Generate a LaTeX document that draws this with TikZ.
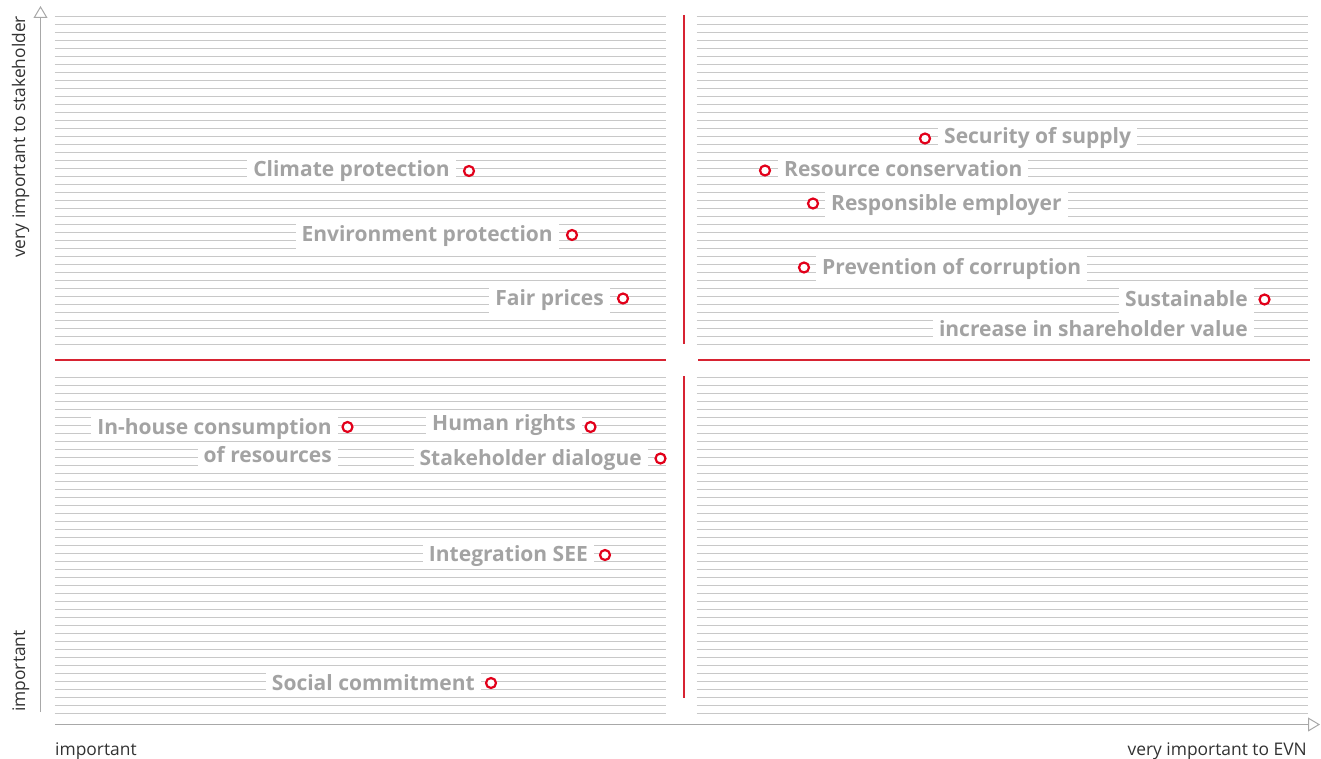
\documentclass[tikz,border=0pt]{standalone}
\usepackage{fontspec}
\setmainfont{Open Sans}
\newfontfamily\lblfont{Open Sans}
\usetikzlibrary{arrows.meta}
\definecolor{gridgray}{RGB}{200,200,200}
\definecolor{axisgray}{RGB}{168,168,168}
\definecolor{lblgray}{RGB}{163,163,163}
\definecolor{axistext}{RGB}{50,50,50}
\definecolor{evnred}{RGB}{226,0,26}
\definecolor{crossred}{RGB}{215,35,50}
\tikzset{
  grid line/.style={gridgray, line width=1pt},
  cross line/.style={crossred, line width=2pt},
  axis line/.style={axisgray, line width=1pt, -{Triangle[open,length=12pt,width=14pt]}},
  lbl/.style={fill=white, text=lblgray, font=\lblfont\bfseries\fontsize{21}{24}\selectfont,
     inner xsep=6pt, inner ysep=3pt, text height=16pt, text depth=4pt},
  lblL/.style={lbl, anchor=base east},
  lblR/.style={lbl, anchor=base west},
  dot/.style={circle, draw=evnred, line width=2.2pt, fill=white, minimum size=10pt, inner sep=0pt},
  axislbl/.style={text=axistext, font=\fontsize{17.4}{20}\selectfont, inner sep=0pt}
}
\begin{document}
\begin{tikzpicture}[x=1pt,y=-1pt]
\useasboundingbox (0,0) rectangle (1321,759);
% grid lines
\foreach \k in {0,...,41} {
  \draw[grid line] (54.5,16.7+8*\k) -- (666,16.7+8*\k);
  \draw[grid line] (696.5,16.7+8*\k) -- (1307.5,16.7+8*\k);
}
\foreach \k in {0,...,42} {
  \draw[grid line] (54.5,377.3+8*\k) -- (666,377.3+8*\k);
  \draw[grid line] (696.5,377.3+8*\k) -- (1307.5,377.3+8*\k);
}
% red cross
\draw[cross line] (683.7,15) -- (683.7,344);
\draw[cross line] (683.7,376) -- (683.7,698);
\draw[cross line] (54.5,359.5) -- (666,359.5);
\draw[cross line] (698,359.5) -- (1310,359.5);
% axes
\coordinate (yb) at (40.5,712);
\coordinate (yt) at (40.5,6);
\coordinate (xl) at (55,724.5);
\coordinate (xr) at (1320,724.5);
\draw[axis line] (yb) -- (yt);
\draw[axis line] (xl) -- (xr);
% axis labels
\node[axislbl, rotate=90, anchor=base west] (ylabtop) at (25,258) {very important to stakeholder};
\node[axislbl, rotate=90, anchor=base west] (ylabbot) at (25,712) {important};
\node[axislbl, anchor=base west] (xlableft) at (55,755) {important};
\node[axislbl, anchor=base east] (xlabright) at (1307,755) {very important to EVN};
% labels
\node[lblL] (l1) at (456,177) {Climate protection};
\node[lblL] (l2) at (559,241.5) {Environment protection};
\node[lblL] (l3) at (610,305.5) {Fair prices};
\node[lblR] (l4) at (938,143.5) {Security of supply};
\node[lblR] (l5) at (778,176.5) {Resource conservation};
\node[lblR] (l6) at (825,210.5) {Responsible employer};
\node[lblR] (l7) at (816,274.5) {Prevention of corruption};
\node[lblL] (l8) at (1254,306.5) {Sustainable};
\node[lblL] (l9) at (1254,336.5) {increase in shareholder value};
\node[lblL] (l10) at (338,434) {In-house consumption};
\node[lblL] (l11) at (338,462) {of resources};
\node[lblL] (l12) at (582,430) {Human rights};
\node[lblL] (l13) at (648,465) {Stakeholder dialogue};
\node[lblL] (l14) at (594,561) {Integration SEE};
\node[lblL] (l15) at (481,690) {Social commitment};
% dots
\node[dot] (c1) at (469,171) {};
\node[dot] (c2) at (572,235) {};
\node[dot] (c3) at (623,298.5) {};
\node[dot] (c4) at (925,138.5) {};
\node[dot] (c5) at (765,170.5) {};
\node[dot] (c6) at (813,203.5) {};
\node[dot] (c7) at (804,267.5) {};
\node[dot] (c8) at (1264.5,299.5) {};
\node[dot] (c9) at (347.5,427) {};
\node[dot] (c10) at (590.5,427) {};
\node[dot] (c11) at (660.5,458.5) {};
\node[dot] (c12) at (605,555) {};
\node[dot] (c13) at (491,683) {};
\end{tikzpicture}
\end{document}
